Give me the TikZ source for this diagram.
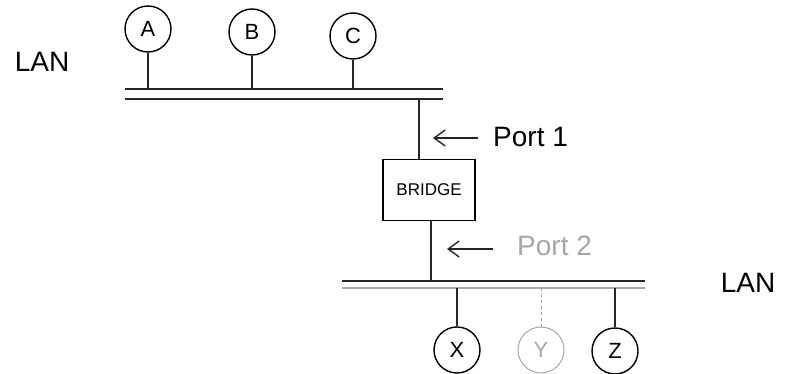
\documentclass[tikz,border=0pt]{standalone}
\usepackage{fontspec}
\setmainfont{Liberation Sans}
\usetikzlibrary{arrows.meta}
\begin{document}
\begin{tikzpicture}[x=1pt,y=-1pt,
  ink/.style={line width=1.4pt,black!85},
  faint/.style={line width=1pt,black!35},
  pointer/.style={ink,-{Straight Barb[length=11pt,width=16pt,line width=1.4pt]}},
  station/.style={circle,draw,line width=1.4pt,minimum size=46pt,inner sep=0pt,font=\fontsize{22}{22}\selectfont},
  label/.style={font=\fontsize{28}{28}\selectfont,inner sep=0pt},
  bus/.style={line width=1.8pt,black!85}]
\useasboundingbox (0,0) rectangle (787,374);

% upper segment
\node[label] (lan1) at (42,62) {LAN};
\node[station] (A) at (148,29) {A};
\node[station] (B) at (252,32) {B};
\node[station] (C) at (353,36) {C};
\coordinate (b1l) at (125,89);
\coordinate (b1r) at (443,89);
\coordinate (b1l2) at (125,99);
\coordinate (b1r2) at (443,99);
\draw[bus] (b1l) -- (b1r);
\draw[bus] (b1l2) -- (b1r2);
\draw[ink] (A.south) -- (A.south |- b1l);
\draw[ink] (B.south) -- (B.south |- b1l);
\draw[ink] (C.south) -- (C.south |- b1l);

% bridge
\node[draw,line width=1.4pt,minimum width=92pt,minimum height=61pt,font=\fontsize{17}{17}\selectfont] (bridge) at (429,190) {BRIDGE};
\coordinate (up) at (419,99);
\draw[ink] (up) -- (bridge.north -| up);
\coordinate (p1a) at (478,138);
\coordinate (p1b) at (433,138);
\draw[pointer] (p1a) -- (p1b);
\node[label,anchor=west] (port1) at (493,137) {Port 1};

% lower segment
\coordinate (b2l) at (342,281);
\coordinate (b2r) at (645,281);
\coordinate (b2l2) at (342,288);
\coordinate (b2r2) at (645,288);
\draw[bus] (b2l) -- (b2r);
\draw[faint,line width=1.2pt] (b2l2) -- (b2r2);
\coordinate (down) at (431,220);
\draw[ink] (down) -- (down |- b2l);
\coordinate (p2a) at (493,249);
\coordinate (p2b) at (447,249);
\draw[pointer] (p2a) -- (p2b);
\node[label,anchor=west,text=black!35] (port2) at (517,246) {Port 2};
\node[label] (lan2) at (748,283) {LAN};

\node[station] (X) at (457,350) {X};
\node[station,draw=black!35,text=black!35,line width=1pt] (Y) at (541,350) {Y};
\node[station] (Z) at (615,351) {Z};
\draw[ink] (X.north) -- (X.north |- b2l2);
\draw[faint,dashed] (Y.north) -- (Y.north |- b2l2);
\draw[ink] (Z.north) -- (Z.north |- b2l2);
\end{tikzpicture}
\end{document}
